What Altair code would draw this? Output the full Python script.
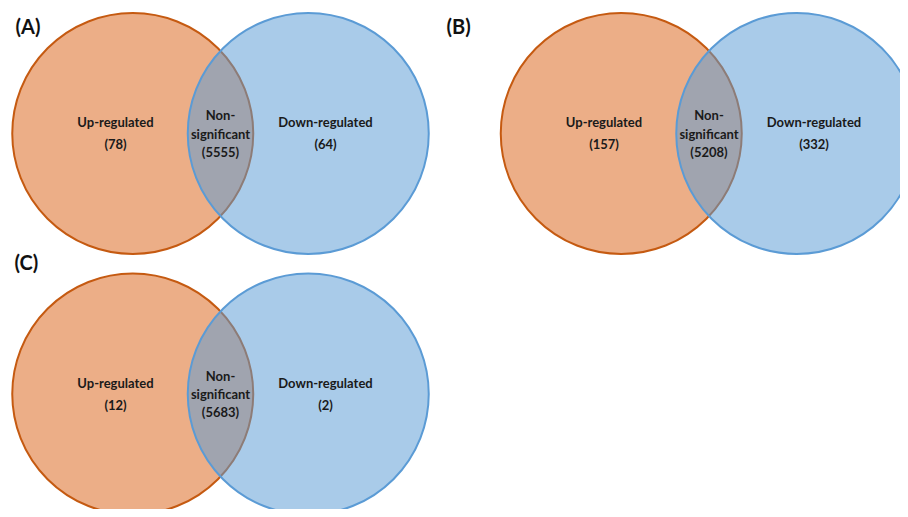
import altair as alt
import pandas as pd

# ---------------- data ----------------
panels = ["(A)", "(B)", "(C)"]
set_names = ["Up-regulated", "Down-regulated"]
middle_name = ["Non-", "significant"]
up_counts = [78, 157, 12]
non_counts = [5555, 5208, 5683]
down_counts = [64, 332, 2]

# ---------------- layout (venn units: circle radius = 1) ----------------
W, H = 892, 501
PX = 121.5                       # pixels per venn unit
ORIGIN_X, ORIGIN_Y = 212.5, 125.5  # centre of panel A in chart pixels
panel_col = [0, 1, 0]
panel_row = [0, 0, 1]
COL_STEP = 488.5 / PX
ROW_STEP = 260.5 / PX
HALF = 87.75 / PX                # half distance between circle centres
title_pos = [(-205.0 / PX, -106.0 / PX), (-262.5 / PX, -106.0 / PX), (-206.0 / PX, -130.5 / PX)]
side_label_dx = 105.0 / PX
side_line_dy = [-10.5 / PX, 11.5 / PX]
mid_line_dy = [-17.5 / PX, 1.0 / PX, 19.0 / PX]

x_dom = [-ORIGIN_X / PX, (W - ORIGIN_X) / PX]
y_dom = [-ORIGIN_Y / PX, (H - ORIGIN_Y) / PX]

circles, labels, titles = [], [], []
for i, p in enumerate(panels):
    cx = panel_col[i] * COL_STEP
    cy = panel_row[i] * ROW_STEP
    circles.append({"panel": p, "set": set_names[0], "x": cx - HALF, "y": cy})
    circles.append({"panel": p, "set": set_names[1], "x": cx + HALF, "y": cy})
    for j, line in enumerate([set_names[0], f"({up_counts[i]})"]):
        labels.append({"panel": p, "text": line, "x": cx - side_label_dx, "y": cy + side_line_dy[j]})
    for j, line in enumerate([set_names[1], f"({down_counts[i]})"]):
        labels.append({"panel": p, "text": line, "x": cx + side_label_dx, "y": cy + side_line_dy[j]})
    for j, line in enumerate(middle_name + [f"({non_counts[i]})"]):
        labels.append({"panel": p, "text": line, "x": cx, "y": cy + mid_line_dy[j]})
    titles.append({"panel": p, "text": p, "x": cx + title_pos[i][0], "y": cy + title_pos[i][1]})

circ_df = pd.DataFrame(circles)
lab_df = pd.DataFrame(labels)
tit_df = pd.DataFrame(titles)

X = lambda: alt.X("x:Q", scale=alt.Scale(domain=x_dom, range=[0, W], nice=False, zero=False), axis=None)
Y = lambda: alt.Y("y:Q", scale=alt.Scale(domain=y_dom, range=[0, H], nice=False, zero=False), axis=None)

diam = 2 * PX - 2
size = diam * diam

up_layer = alt.Chart(circ_df).transform_filter(alt.datum.set == set_names[0]).mark_circle(
    size=size, fill="#ECAE87", stroke="#C55A11", strokeWidth=2, opacity=1, fillOpacity=1
).encode(x=X(), y=Y())

down_layer = alt.Chart(circ_df).transform_filter(alt.datum.set == set_names[1]).mark_circle(
    size=size, fill="#5B9BD5", stroke="#5B9BD5", strokeWidth=2, opacity=1, fillOpacity=0.52, strokeOpacity=1
).encode(x=X(), y=Y())

text_layer = alt.Chart(lab_df).mark_text(
    font="Lato", fontSize=13, fontWeight="bold", color="#1A1A1A", align="center", baseline="middle"
).encode(x=X(), y=Y(), text="text:N")

title_layer = alt.Chart(tit_df).mark_text(
    font="Lato", fontSize=20, fontWeight="bold", color="#111111", align="left", baseline="middle"
).encode(x=X(), y=Y(), text="text:N")

chart = alt.layer(up_layer, down_layer, text_layer, title_layer).properties(
    width=W, height=H, autosize=alt.AutoSizeParams(type="none"), padding=0
).configure_view(strokeWidth=0)

chart.save("out.html", embed_options={"renderer": "svg", "actions": False})
